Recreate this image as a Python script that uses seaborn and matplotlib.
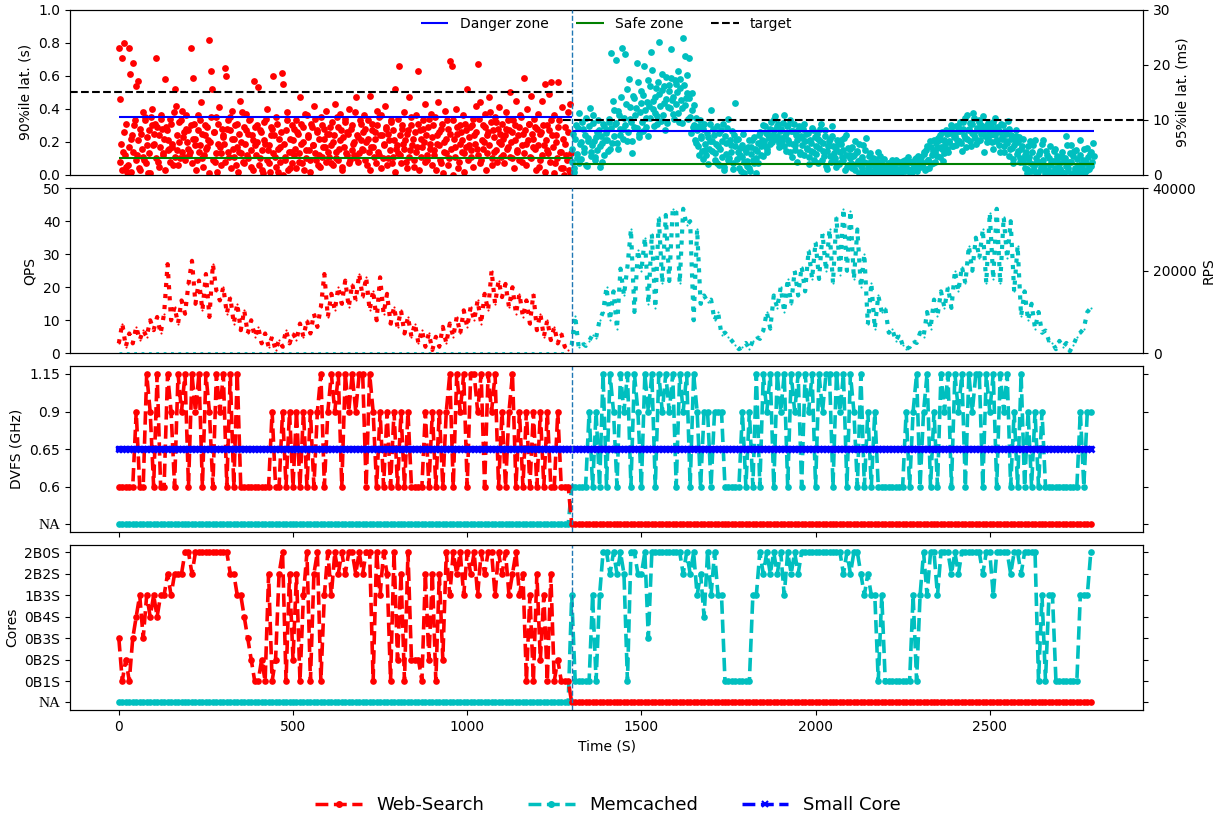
import numpy as np
import matplotlib
matplotlib.use("Agg")
import matplotlib.pyplot as plt
from matplotlib.lines import Line2D
import seaborn as sns

# ---------------- data ----------------
split_time = 1300          # Web-Search runs before, Memcached after
end_time = 2800

# Web-Search 90%ile latency (units of 0.01 s), one sample every 4 s from t=0
ws_lat_cs = [
    77, 46, 71, 14, 80, 5, 2, 77, 61, 22, 68, 30, 54, 12, 57, 3, 25, 38, 9, 33, 18, 1, 27, 35, 40,
    19, 31, 71, 8, 24, 36, 28, 13, 58, 29, 21, 16, 34, 17, 6, 52, 42, 15, 32, 10, 39, 23, 11, 28, 20,
    27, 14, 77, 59, 31, 22, 9, 36, 18, 44, 25, 12, 30, 17, 21, 82, 63, 52, 26, 8, 35, 19, 41, 13, 28,
    24, 65, 60, 33, 11, 27, 39, 16, 22, 6, 31, 14, 45, 20, 8, 29, 37, 12, 25, 34, 5, 21, 57, 18, 30,
    53, 10, 26, 3, 32, 19, 40, 15, 7, 24, 28, 60, 11, 35, 2, 22, 17, 62, 55, 9, 27, 38, 14, 4, 30,
    21, 12, 33, 26, 8, 47, 19, 29, 3, 15, 36, 24, 9, 31, 18, 42, 13, 27, 6, 22, 35, 11, 28, 17, 39,
    14, 25, 7, 32, 20, 43, 10, 29, 16, 37, 5, 23, 34, 13, 26, 40, 9, 30, 19, 12, 47, 24, 8, 33, 21,
    15, 36, 28, 6, 22, 48, 17, 31, 11, 26, 39, 14, 35, 4, 24, 18, 42, 29, 10, 21, 32, 7, 27, 52, 16,
    34, 66, 12, 28, 19, 38, 8, 25, 47, 15, 30, 22, 5, 36, 17, 63, 27, 11, 33, 20, 43, 9, 29, 16, 37,
    23, 12, 35, 19, 44, 26, 7, 31, 14, 39, 22, 28, 10, 69, 66, 33, 17, 40, 25, 8, 30, 21, 36, 13, 27,
    52, 18, 29, 11, 34, 24, 42, 16, 67, 44, 9, 30, 20, 37, 13, 26, 47, 32, 6, 23, 35, 15, 28, 41, 19,
    31, 12, 24, 38, 17, 27, 50, 10, 33, 21, 45, 14, 29, 36, 8, 25, 59, 19, 40, 31, 11, 48, 22, 34, 16,
    28, 37, 9, 26, 45, 18, 55, 30, 13, 49, 56, 24, 36, 7, 20, 56, 33, 14, 41, 4, 29, 12, 38, 3, 43,
]
# second sample in each 4 s window (t = 2, 6, 10, ...)
ws_lat_cs_b = [
    8, 19, 3, 26, 12, 31, 6, 17, 2, 24, 14, 33, 9, 21, 4, 28, 16, 11, 35, 7, 23, 13, 1, 30, 18,
    25, 10, 29, 5, 17, 34, 12, 22, 3, 27, 15, 8, 31, 19, 38, 11, 24, 6, 20, 33, 14, 26, 9, 36, 16,
    12, 30, 7, 22, 18, 3, 27, 14, 33, 10, 5, 24, 16, 29, 1, 20, 35, 9, 26, 13, 2, 31, 17, 6, 23,
    19, 8, 28, 14, 35, 4, 22, 11, 30, 17, 2, 25, 13, 38, 7, 19, 27, 10, 33, 15, 24, 3, 29, 12, 20,
    6, 27, 15, 1, 21, 34, 9, 18, 2, 29, 13, 24, 5, 31, 16, 8, 26, 0, 19, 11, 33, 3, 22, 14, 7,
    28, 16, 4, 25, 13, 31, 7, 20, 37, 10, 23, 15, 2, 29, 18, 34, 9, 26, 12, 5, 30, 17, 22, 8, 25,
    11, 29, 18, 6, 24, 14, 35, 9, 21, 27, 3, 17, 32, 12, 25, 7, 28, 15, 20, 38, 10, 23, 13, 31, 16,
    26, 9, 20, 33, 14, 3, 27, 17, 22, 7, 30, 12, 24, 36, 10, 19, 28, 6, 25, 15, 33, 11, 21, 2, 18,
    13, 24, 7, 30, 16, 21, 4, 27, 11, 35, 18, 9, 26, 14, 31, 3, 22, 17, 28, 8, 24, 12, 34, 19, 6,
    30, 15, 3, 24, 18, 9, 28, 1, 20, 13, 33, 6, 25, 16, 0, 22, 11, 29, 4, 19, 26, 14, 2, 31, 17,
    9, 23, 15, 30, 5, 19, 26, 12, 34, 7, 21, 16, 29, 3, 24, 18, 38, 10, 27, 14, 32, 8, 20, 25, 11,
    22, 7, 28, 16, 33, 11, 20, 26, 4, 30, 15, 24, 9, 35, 18, 13, 27, 6, 21, 31, 10, 25, 17, 29, 3,
    18, 5, 25, 12, 30, 2, 21, 15, 27, 8, 33, 17, 1, 24, 10, 29, 14, 4, 22, 0, 19, 9, 26, 2, 13,
]

# Memcached 95%ile latency (units of 0.1 ms), one sample every 4 s from t=1300
mc_lat_dms = [
    23, 74, 6, 91, 38, 112, 57, 29, 83, 49, 103, 17, 68, 121, 42, 94, 61, 33, 78, 99, 52, 71, 24, 88, 63,
    81, 44, 97, 221, 58, 118, 92, 208, 47, 109, 73, 231, 84, 219, 128, 62, 174, 101, 39, 143, 87, 122, 203, 69, 114,
    152, 79, 198, 104, 133, 71, 161, 224, 119, 88, 142, 107, 169, 241, 98, 155, 131, 82, 178, 124, 163, 229, 137, 111, 172,
    128, 188, 96, 158, 121, 248, 216, 139, 182, 212, 106, 149, 87, 127, 58, 81, 37, 99, 68, 29, 92, 46, 77, 19, 61,
    118, 43, 72, 27, 89, 53, 18, 81, 62, 9, 71, 38, 102, 31, 54, 79, 22, 131, 63, 41, 12, 49, 33, 74, 4,
    42, 17, 63, 8, 51, 28, 69, 3, 44, 21, 78, 52, 34, 61, 88, 47, 73, 56, 96, 64, 82, 107, 71, 93, 58,
    84, 62, 109, 71, 43, 91, 58, 99, 32, 79, 54, 72, 23, 88, 41, 67, 83, 36, 74, 49, 19, 63, 44, 81, 28,
    53, 74, 21, 61, 92, 43, 34, 82, 11, 52, 66, 24, 71, 39, 31, 14, 57, 22, 63, 33, 46, 9, 72, 18, 36,
    48, 13, 34, 62, 19, 41, 3, 28, 12, 54, 23, 68, 6, 21, 39, 8, 31, 2, 17, 11, 42, 5, 24, 14, 29,
    4, 18, 9, 22, 2, 13, 20, 1, 28, 11, 24, 3, 19, 14, 7, 19, 11, 8, 23, 5, 21, 9, 31, 13, 26,
    14, 33, 22, 41, 11, 52, 28, 61, 19, 44, 63, 24, 49, 67, 32, 51, 78, 39, 56, 74, 41, 62, 84, 53, 69,
    71, 54, 88, 62, 79, 43, 97, 68, 51, 109, 84, 61, 93, 112, 73, 56, 82, 99, 64, 91, 76, 42, 86, 59, 94,
    72, 89, 48, 81, 103, 63, 84, 41, 92, 69, 53, 79, 61, 98, 34, 72, 49, 22, 63, 81, 44, 69, 31, 52, 24,
    13, 41, 4, 33, 62, 19, 54, 8, 31, 2, 24, 43, 11, 64, 18, 3, 36, 9, 52, 21, 1, 44, 12, 29, 6,
    19, 8, 42, 3, 31, 71, 12, 23, 54, 1, 34, 9, 46, 17, 2, 63, 14, 28, 5, 21, 49, 11, 38, 16, 58,
]
# second sample in each 4 s window (t = 1302, 1306, ...)
mc_lat_dms_b = [
    48, 12, 66, 31, 85, 22, 59, 97, 41, 73, 18, 62, 88, 35, 54, 108, 27, 69, 45, 81, 14, 58, 92, 37, 76,
    64, 102, 47, 86, 134, 71, 95, 58, 117, 83, 142, 66, 104, 91, 157, 78, 123, 96, 61, 139, 108, 85, 168, 74, 131,
    97, 146, 118, 87, 172, 125, 103, 191, 134, 112, 158, 93, 147, 126, 184, 109, 162, 138, 94, 153, 121, 176, 142, 101, 166,
    151, 112, 174, 136, 94, 163, 127, 148, 102, 139, 76, 118, 91, 64, 103, 52, 88, 71, 43, 84, 57, 36, 69, 48, 92,
    62, 84, 39, 57, 21, 76, 48, 33, 92, 14, 58, 86, 27, 64, 41, 11, 73, 52, 29, 66, 37, 8, 55, 24, 47,
    26, 51, 13, 38, 64, 22, 47, 31, 58, 72, 36, 64, 91, 53, 77, 42, 68, 84, 59, 73, 102, 66, 88, 51, 79,
    67, 95, 52, 76, 88, 63, 41, 79, 57, 93, 46, 64, 81, 38, 71, 55, 92, 62, 48, 77, 33, 58, 86, 42, 69,
    38, 66, 49, 84, 27, 58, 71, 16, 44, 62, 35, 88, 52, 27, 48, 63, 19, 41, 56, 28, 67, 37, 14, 49, 31,
    22, 51, 37, 9, 44, 26, 57, 17, 33, 4, 46, 21, 13, 35, 24, 2, 18, 29, 7, 23, 12, 34, 3, 16, 8,
    14, 3, 21, 8, 27, 5, 16, 23, 2, 24, 11, 7, 26, 18, 28, 9, 32, 3, 24, 11, 16, 29, 7, 34, 14,
    26, 17, 38, 9, 46, 28, 13, 51, 36, 22, 41, 58, 34, 63, 72, 48, 25, 63, 81, 47, 59, 76, 91, 53, 75,
    88, 64, 79, 96, 58, 84, 72, 103, 66, 81, 94, 53, 77, 104, 68, 86, 62, 97, 74, 83, 107, 71, 89, 65, 78,
    84, 59, 96, 73, 62, 87, 54, 78, 66, 91, 42, 74, 58, 83, 47, 66, 29, 54, 71, 38, 59, 24, 48, 66, 31,
    36, 11, 52, 24, 8, 41, 17, 63, 22, 5, 38, 14, 56, 27, 9, 44, 2, 31, 18, 6, 26, 48, 7, 35, 21,
    11, 33, 4, 27, 16, 55, 8, 39, 23, 2, 44, 13, 29, 7, 36, 19, 4, 48, 26, 9, 32, 15, 41, 24, 35,
]

# Web-Search QPS, every 10 s from t=0
ws_qps = [
    3, 9, 2, 6, 3, 8, 4, 7, 5, 10,
    7, 11, 6, 12, 27, 10, 14, 9, 16, 12,
    21, 28, 15, 22, 13, 24, 11, 27, 19, 16,
    20, 12, 17, 9, 15, 7, 13, 6, 10, 5,
    8, 3, 6, 2, 5, 1, 4, 2, 7, 3,
    6, 4, 9, 5, 10, 6, 12, 8, 14, 24,
    11, 18, 13, 20, 15, 22, 14, 21, 16, 24,
    17, 23, 13, 19, 10, 23, 12, 18, 9, 14,
    8, 13, 6, 11, 5, 9, 3, 7, 2, 6,
    1, 5, 2, 8, 3, 9, 5, 11, 6, 13,
    8, 14, 10, 16, 9, 18, 13, 25, 15, 22,
    17, 21, 14, 20, 12, 18, 11, 16, 9, 18,
    7, 12, 5, 10, 4, 8, 3, 6, 2, 1,
]

# Memcached RPS (hundreds), every 10 s from t=1300
mc_rps_h = [
    20, 90, 15, 25, 18, 30, 45, 38, 80, 100,
    160, 80, 150, 60, 205, 140, 210, 300, 100, 250,
    200, 280, 120, 290, 110, 330, 170, 335, 175, 350,
    345, 170, 350, 310, 320, 80, 300, 120, 140, 125,
    130, 80, 100, 45, 50, 40, 30, 20, 10, 15,
    25, 10, 30, 40, 35, 55, 100, 60, 140, 110,
    160, 100, 180, 120, 200, 140, 210, 150, 250, 180,
    270, 180, 290, 200, 300, 170, 330, 190, 350, 200,
    345, 180, 300, 160, 240, 70, 170, 60, 140, 100,
    110, 50, 60, 30, 45, 20, 10, 15, 30, 25,
    50, 40, 100, 60, 130, 90, 150, 110, 160, 110,
    200, 150, 210, 170, 260, 200, 280, 230, 300, 170,
    340, 180, 350, 170, 330, 230, 320, 150, 260, 90,
    150, 80, 120, 60, 100, 50, 55, 30, 25, 10,
    30, 15, 25, 5, 20, 40, 50, 60, 100, 110,
]

# DVFS setting (index into dvfs_labels), every 10 s
dvfs_labels = ["NA", "0.6", "0.65", "0.9", "1.15"]
ws_dvfs = [
    1, 1, 1, 1, 1, 3, 1, 1, 4, 3,
    1, 4, 1, 1, 4, 3, 1, 4, 3, 4,
    1, 4, 3, 4, 1, 4, 3, 1, 4, 3,
    4, 1, 4, 1, 4, 1, 1, 1, 1, 1,
    1, 1, 1, 1, 3, 1, 1, 3, 1, 3,
    1, 3, 1, 3, 1, 3, 1, 3, 4, 1,
    3, 4, 3, 4, 1, 4, 3, 4, 3, 4,
    4, 1, 4, 3, 1, 3, 1, 3, 1, 3,
    1, 3, 1, 3, 1, 1, 1, 1, 3, 1,
    3, 1, 3, 1, 3, 4, 1, 4, 3, 4,
    1, 4, 4, 3, 4, 1, 4, 3, 4, 1,
    3, 1, 3, 4, 1, 3, 1, 3, 1, 3,
    1, 3, 1, 3, 1, 1, 3, 1, 1, 1,
]
mc_dvfs = [
    1, 1, 1, 1, 1, 3, 1, 3, 1, 4,
    1, 4, 3, 1, 4, 3, 4, 1, 4, 3,
    1, 4, 3, 4, 1, 4, 3, 4, 3, 4,
    1, 4, 3, 4, 1, 4, 3, 1, 3, 3,
    1, 3, 3, 3, 1, 1, 1, 1, 1, 3,
    1, 3, 1, 4, 1, 4, 3, 4, 1, 4,
    3, 4, 1, 4, 3, 4, 1, 4, 3, 4,
    1, 4, 3, 4, 4, 1, 4, 3, 4, 1,
    4, 3, 1, 4, 1, 3, 1, 3, 1, 1,
    1, 1, 1, 1, 1, 1, 3, 1, 3, 4,
    1, 3, 4, 1, 3, 1, 4, 3, 4, 1,
    4, 3, 4, 1, 4, 3, 4, 4, 1, 4,
    3, 4, 1, 4, 3, 4, 1, 3, 1, 4,
    1, 3, 1, 3, 1, 3, 1, 1, 1, 1,
    1, 1, 1, 1, 1, 1, 3, 1, 3, 3,
]
small_core_dvfs = 2   # 0.65 GHz for the whole run

# Core configuration (index into core_labels), every 10 s
core_labels = ["NA", "0B1S", "0B2S", "0B3S", "0B4S", "1B3S", "2B2S", "2B0S"]
ws_cores = [
    3, 1, 2, 1, 3, 4, 5, 3, 5, 4,
    5, 4, 5, 5, 6, 5, 6, 6, 6, 7,
    7, 6, 7, 7, 7, 7, 7, 7, 7, 7,
    7, 7, 6, 6, 5, 5, 4, 3, 2, 1,
    1, 2, 1, 6, 1, 2, 6, 7, 1, 6,
    2, 6, 1, 5, 7, 1, 6, 7, 1, 5,
    7, 5, 7, 6, 7, 6, 7, 7, 6, 7,
    6, 7, 7, 1, 7, 5, 7, 6, 1, 7,
    2, 6, 1, 7, 2, 2, 2, 1, 6, 2,
    6, 1, 6, 2, 7, 5, 7, 6, 7, 5,
    7, 6, 7, 5, 7, 6, 7, 7, 5, 7,
    6, 7, 5, 6, 7, 5, 6, 1, 5, 1,
    6, 2, 5, 1, 6, 1, 2, 1, 1, 1,
]
mc_cores = [
    5, 1, 1, 1, 1, 1, 5, 1, 5, 7,
    7, 6, 7, 6, 7, 6, 1, 7, 7, 6,
    6, 7, 3, 7, 7, 7, 7, 7, 7, 7,
    7, 7, 6, 7, 6, 7, 5, 6, 4, 7,
    5, 7, 5, 5, 1, 1, 1, 1, 1, 1,
    1, 1, 5, 5, 7, 6, 7, 6, 7, 6,
    7, 5, 7, 6, 7, 6, 7, 7, 7, 7,
    7, 7, 7, 7, 7, 7, 7, 7, 6, 7,
    6, 7, 7, 6, 5, 6, 5, 5, 1, 5,
    1, 1, 1, 1, 1, 1, 1, 1, 5, 1,
    5, 7, 5, 7, 7, 5, 7, 7, 7, 6,
    7, 6, 7, 7, 7, 7, 7, 7, 6, 7,
    7, 5, 7, 7, 7, 7, 6, 7, 7, 6,
    7, 7, 7, 7, 1, 5, 1, 5, 5, 1,
    1, 1, 1, 1, 1, 1, 5, 5, 5, 7,
]
na_level = 0

# QoS reference levels
ws_danger, ws_safe, ws_target = 0.35, 0.10, 0.50   # seconds
mc_danger, mc_safe, mc_target = 8, 2, 10            # milliseconds

# ---------------- derived series ----------------
t_ws4 = np.arange(0, split_time, 4)
t_mc4 = np.arange(split_time, end_time, 4)
t_ws10 = np.arange(0, split_time, 10)
t_mc10 = np.arange(split_time, end_time, 10)
t_all10 = np.arange(0, end_time, 10)

ws_t = np.concatenate([t_ws4, t_ws4 + 2])
ws_lat = np.concatenate([ws_lat_cs, ws_lat_cs_b]) / 100.0
mc_t = np.concatenate([t_mc4, t_mc4 + 2])
mc_lat = np.concatenate([mc_lat_dms, mc_lat_dms_b]) / 10.0
mc_rps = np.array(mc_rps_h) * 100.0

ws_dvfs_full = np.concatenate([ws_dvfs, np.full(len(t_mc10), na_level)])
mc_dvfs_full = np.concatenate([np.full(len(t_ws10), na_level), mc_dvfs])
sc_dvfs_full = np.full(len(t_all10), small_core_dvfs)
ws_cores_full = np.concatenate([ws_cores, np.full(len(t_mc10), na_level)])
mc_cores_full = np.concatenate([np.full(len(t_ws10), na_level), mc_cores])

# ---------------- figure ----------------
RED, CYAN, BLUE, GREEN = "#ff0000", "#00bfbf", "#0000ff", "#008000"
VCOL = "#1f77b4"
XLIM = (-140, 2940)

fig, axes = plt.subplots(4, 1, figsize=(12.16, 8.17), dpi=100, sharex=True)
fig.subplots_adjust(left=0.0576, right=0.94, top=0.988, bottom=0.131, hspace=0.08)
ax1, ax2, ax3, ax4 = axes
for ax in axes:
    ax.set_xlim(*XLIM)
    ax.tick_params(labelsize=10)

frac_split = (split_time - XLIM[0]) / (XLIM[1] - XLIM[0])

# ---- panel 1: latency ----
sns.scatterplot(x=ws_t, y=ws_lat, ax=ax1, color=RED, s=24, linewidth=0, zorder=2)
ax1.hlines(ws_danger, 0, split_time, colors=BLUE, lw=1.5, zorder=3, label="Danger zone")
ax1.hlines(ws_safe, 0, split_time, colors=GREEN, lw=1.5, zorder=3, label="Safe zone")
ax1.axhline(ws_target, xmin=0, xmax=frac_split, color="k", ls="--", lw=1.5, zorder=3, label="target")
ax1.set_ylim(0, 1.0)
ax1.set_yticks(np.arange(0, 1.01, 0.2))
ax1.set_ylabel("90%ile lat. (s)", fontsize=10)
ax1.tick_params(axis="x", bottom=False)

ax1b = ax1.twinx()
sns.scatterplot(x=mc_t, y=mc_lat, ax=ax1b, color=CYAN, s=24, linewidth=0, zorder=2)
ax1b.hlines(mc_danger, split_time, end_time, colors=BLUE, lw=1.5, zorder=3)
ax1b.hlines(mc_safe, split_time, end_time, colors=GREEN, lw=1.5, zorder=3)
ax1b.axhline(mc_target, xmin=frac_split - 0.008, xmax=1, color="k", ls="--", lw=1.5, zorder=3)
ax1b.axvline(split_time, color=VCOL, ls="--", lw=1, zorder=6)
ax1b.set_ylim(0, 30)
ax1b.set_yticks([0, 10, 20, 30])
ax1b.set_ylabel("95%ile lat. (ms)", fontsize=10)
ax1b.tick_params(labelsize=10)
h, l = ax1.get_legend_handles_labels()
ax1b.legend(h, l, loc="upper center", ncol=3, frameon=False, fontsize=10,
            borderaxespad=0.1, columnspacing=2.0)

# ---- panel 2: load ----
sns.lineplot(x=t_ws10, y=ws_qps, ax=ax2, color=RED, linestyle=":", lw=3,
             marker=".", markersize=3, markeredgewidth=0, estimator=None, sort=False)
ax2.set_ylim(0, 50)
ax2.set_yticks(range(0, 51, 10))
ax2.set_ylabel("QPS", fontsize=10)
ax2.tick_params(axis="x", bottom=False)

ax2b = ax2.twinx()
sns.lineplot(x=t_ws10, y=np.zeros(len(t_ws10)), ax=ax2b, color=CYAN, linestyle=":", lw=2,
             estimator=None, sort=False)
sns.lineplot(x=t_mc10, y=mc_rps, ax=ax2b, color=CYAN, linestyle=":", lw=3,
             marker=".", markersize=3, markeredgewidth=0, estimator=None, sort=False)
ax2b.axvline(split_time, color=VCOL, ls="--", lw=1, zorder=6)
ax2b.set_ylim(0, 40000)
ax2b.set_yticks([0, 20000, 40000])
ax2b.set_ylabel("RPS", fontsize=10)
ax2b.tick_params(labelsize=10)

# ---- panel 3: DVFS ----
line_kw = dict(linestyle="--", lw=2.6, marker="o", markersize=4.8, markeredgewidth=0,
               estimator=None, sort=False)
sns.lineplot(x=t_all10, y=mc_dvfs_full, ax=ax3, color=CYAN, **line_kw)
sns.lineplot(x=t_all10, y=ws_dvfs_full, ax=ax3, color=RED, **line_kw)
sns.lineplot(x=t_all10, y=sc_dvfs_full, ax=ax3, color=BLUE, linestyle="-", lw=4.5,
             marker="x", markersize=5, markeredgewidth=2, markeredgecolor=BLUE,
             markerfacecolor=BLUE, estimator=None, sort=False, zorder=5)
ax3.axvline(split_time, color=VCOL, ls="--", lw=1, zorder=6)
ax3.set_ylim(-0.2, 4.2)
ax3.set_yticks(range(len(dvfs_labels)))
ax3.set_yticklabels(dvfs_labels)
ax3.set_ylabel("DVFS (GHz)", fontsize=10)
ax3b = ax3.twinx()
ax3b.set_ylim(-0.2, 4.2)
ax3b.set_yticks(range(len(dvfs_labels)))
ax3b.set_yticklabels([])

# ---- panel 4: cores ----
sns.lineplot(x=t_all10, y=mc_cores_full, ax=ax4, color=CYAN, **line_kw)
sns.lineplot(x=t_all10, y=ws_cores_full, ax=ax4, color=RED, **line_kw)
ax4.axvline(split_time, color=VCOL, ls="--", lw=1, zorder=6)
ax4.set_ylim(-0.35, 7.35)
ax4.set_yticks(range(len(core_labels)))
ax4.set_yticklabels(core_labels)
ax4.set_ylabel("Cores", fontsize=10)
ax4b = ax4.twinx()
ax4b.set_ylim(-0.35, 7.35)
ax4b.set_yticks(range(len(core_labels)))
ax4b.set_yticklabels([])

ax4.set_xticks(range(0, 2501, 500))
ax4.set_xlabel("Time (S)", fontsize=10)

for ax in (ax3, ax4):
    for lbl in ax.get_yticklabels():
        if lbl.get_text() == "NA":
            lbl.set_fontfamily("Liberation Serif")
            lbl.set_fontsize(11)

for ax in axes:
    leg = ax.get_legend()
    if leg is not None:
        leg.remove()

# ---- figure legend ----
handles = [
    Line2D([], [], color=RED, ls="--", lw=2.5, marker="o", markersize=4),
    Line2D([], [], color=CYAN, ls="--", lw=2.5, marker="o", markersize=4),
    Line2D([], [], color=BLUE, ls="--", lw=2.5, marker="x", markersize=4, markeredgewidth=1.5),
]
fig.legend(handles, ["Web-Search", "Memcached", "Small Core"], loc="lower center",
           bbox_to_anchor=(0.5, -0.016), ncol=3, frameon=False, fontsize=13,
           handlelength=2.6, columnspacing=2.4)

fig.savefig("out.png", dpi=100)
